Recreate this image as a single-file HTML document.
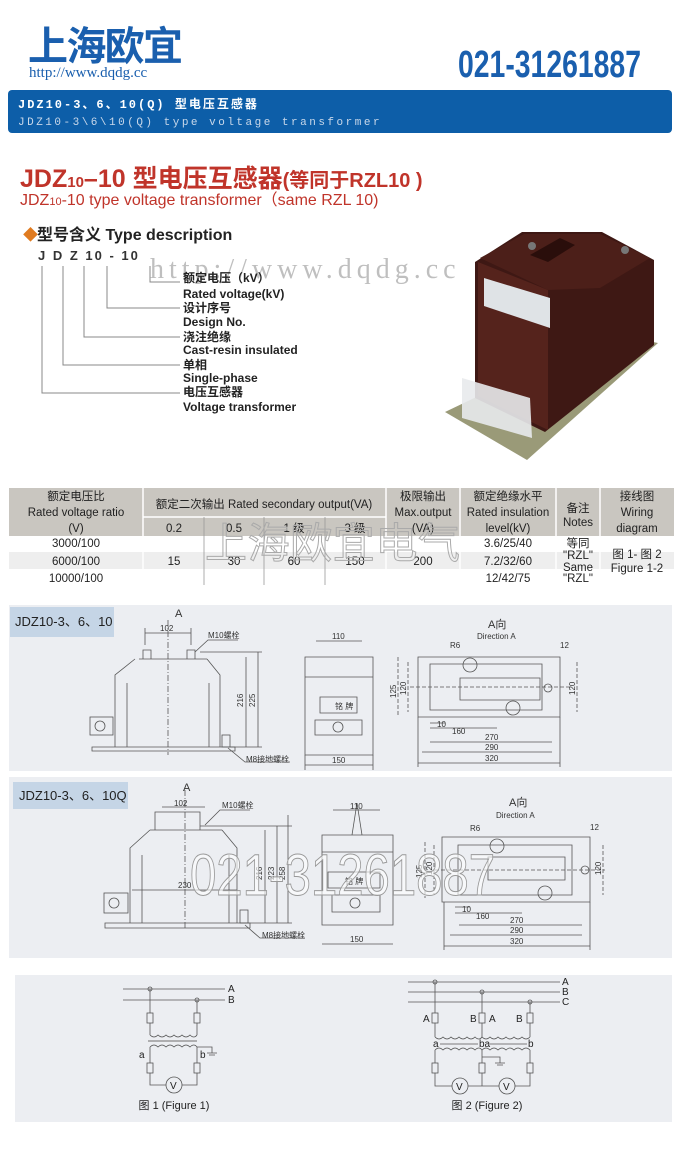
<!DOCTYPE html>
<html><head><meta charset="utf-8"><style>
html,body{margin:0;padding:0;background:#fff;}
svg{display:block;font-family:"Liberation Sans","Noto Sans CJK SC",sans-serif;}
</style></head><body>
<svg width="680" height="1175" viewBox="0 0 680 1175" xmlns="http://www.w3.org/2000/svg">
<!-- header -->
<text x="28" y="60" font-size="40" font-weight="bold" fill="#1a5fae" textLength="155">上海欧宜</text>
<text x="29" y="77" font-size="15" fill="#1a5fae" font-family="Liberation Serif,serif">http://www.dqdg.cc</text>
<text x="458" y="77" font-size="38" font-weight="bold" fill="#1a5fae" textLength="183" lengthAdjust="spacingAndGlyphs">021-31261887</text>
<rect x="8" y="90" width="664" height="43" rx="4" fill="#0d5ea8"/>
<text x="18" y="108" font-size="12" font-weight="bold" fill="#fff" font-family="Liberation Mono,'Noto Sans CJK SC',monospace" letter-spacing="2">JDZ10-3、6、10(Q) 型电压互感器</text>
<text x="18" y="125" font-size="11" fill="#c9d8ea" font-family="Liberation Mono,monospace" letter-spacing="2.5">JDZ10-3\6\10(Q) type voltage transformer</text>

<!-- red title -->
<text x="20" y="187" font-size="25" font-weight="bold" fill="#c0342a">JDZ<tspan font-size="15">10</tspan>–10 型电压互感器<tspan font-size="20">(等同于RZL10 )</tspan></text>
<text x="20" y="205" font-size="16" fill="#c0342a">JDZ<tspan font-size="11">10</tspan>-10 type voltage transformer（same RZL 10)</text>
<text x="23" y="240" font-size="15" fill="#e07b20">◆</text>
<text x="37" y="240" font-size="16" font-weight="bold" fill="#222">型号含义 Type description</text>
<text x="38" y="260" font-size="13" font-weight="bold" fill="#333" letter-spacing="2">J D Z 10 - 10</text>

<text x="150" y="278" font-size="28" fill="#bfbfbf" font-family="Liberation Serif,serif" letter-spacing="5">http://www.dqdg.cc</text>

<g stroke="#888" fill="none" stroke-width="1">
<path d="M150 266V282H180M107 266V308H180M84 266V337H180M63 266V365H180M42 266V393H180"/>
</g>
<g font-size="12" font-weight="bold" fill="#222">
<text x="183" y="282">额定电压（kV）</text>
<text x="183" y="298">Rated voltage(kV)</text>
<text x="183" y="312">设计序号</text>
<text x="183" y="326">Design No.</text>
<text x="183" y="341">浇注绝缘</text>
<text x="183" y="354">Cast-resin insulated</text>
<text x="183" y="369">单相</text>
<text x="183" y="382">Single-phase</text>
<text x="183" y="396">电压互感器</text>
<text x="183" y="411">Voltage transformer</text>
</g>

<!-- product photo -->
<polygon points="445,412 527,460 658,343 610,333" fill="#9a9a78"/>
<polygon points="475,262 522,232 602,232 654,260 654,345 545,432 475,398" fill="#3e1814"/>
<polygon points="478,262 548,290 548,430 478,396" fill="#55231c"/>
<polygon points="480,258 524,234 600,234 650,258 600,288 548,290" fill="#4c1f19"/>
<polygon points="530,255 560,238 575,245 548,262" fill="#2a0e0b"/>
<polygon points="484,278 550,298 550,328 484,306" fill="#dfe3e6"/>
<polygon points="462,378 530,398 532,438 462,418" fill="#e8eaec" opacity="0.9"/>
<circle cx="532" cy="246" r="4" fill="#777"/><circle cx="625" cy="250" r="4" fill="#777"/>

<!-- table -->
<rect x="9" y="488" width="665" height="48" fill="#c9c6c0"/>
<rect x="9" y="552" width="665" height="17" fill="#eeeeee"/>
<g stroke="#fff" stroke-width="1.5">
<line x1="143" y1="488" x2="143" y2="585"/><line x1="386" y1="488" x2="386" y2="585"/>
<line x1="460" y1="488" x2="460" y2="585"/><line x1="556" y1="488" x2="556" y2="585"/>
<line x1="600" y1="488" x2="600" y2="585"/>
<line x1="143" y1="517" x2="386" y2="517"/>
</g>
<g stroke="#999" stroke-width="0.8"><line x1="204" y1="517" x2="204" y2="585"/><line x1="264" y1="517" x2="264" y2="585"/><line x1="325" y1="517" x2="325" y2="585"/></g>
<g font-size="11.5" fill="#222" text-anchor="middle">
<text x="76" y="500">额定电压比</text><text x="76" y="516">Rated voltage ratio</text><text x="76" y="532">(V)</text>
<text x="264" y="508">额定二次输出  Rated secondary output(VA)</text>
<text x="174" y="532">0.2</text><text x="234" y="532">0.5</text><text x="294" y="532">1 级</text><text x="355" y="532">3 级</text>
<text x="423" y="500">极限输出</text><text x="423" y="516">Max.output</text><text x="423" y="532">(VA)</text>
<text x="508" y="500">额定绝缘水平</text><text x="508" y="516">Rated insulation</text><text x="508" y="532">level(kV)</text>
<text x="578" y="512">备注</text><text x="578" y="526">Notes</text>
<text x="637" y="500">接线图</text><text x="637" y="516">Wiring</text><text x="637" y="532">diagram</text>
<text x="76" y="547">3000/100</text><text x="76" y="565">6000/100</text><text x="76" y="582">10000/100</text>
<text x="174" y="565">15</text><text x="234" y="565">30</text><text x="294" y="565">60</text><text x="355" y="565">150</text><text x="423" y="565">200</text>
<text x="508" y="547">3.6/25/40</text><text x="508" y="565">7.2/32/60</text><text x="508" y="582">12/42/75</text>
<text x="578" y="547">等同</text><text x="578" y="559">"RZL"</text><text x="578" y="571">Same</text><text x="578" y="582">"RZL"</text>
<text x="637" y="558">图 1- 图 2</text><text x="637" y="572">Figure 1-2</text>
</g>
<text x="205" y="558" font-size="42" fill="none" stroke="#aaa" stroke-width="1" textLength="255" lengthAdjust="spacing">上海欧宜电气</text>

<!-- panel 1 -->
<rect x="9" y="605" width="663" height="166" fill="#eceef2"/>
<rect x="10" y="607" width="104" height="30" fill="#c5d5e6"/>
<text x="15" y="626" font-size="13" fill="#222">JDZ10-3、6、10</text>
<g stroke="#555" stroke-width="0.8" fill="none">
<path d="M139 659H207M135 659L115 675V747M207 659L220 675V747M127 683V747M209 683V747M92 747H235V751H92Z"/>
<path d="M143 659V650H151V659M187 659V650H195V659"/>
<rect x="90" y="717" width="23" height="18"/><circle cx="100" cy="726" r="5"/>
<rect x="222" y="735" width="8" height="12"/>
<path d="M168 620V755" stroke-dasharray="6 2 1 2"/>
<path d="M145 633H191M145 628V645M191 628V645M195 652L208 640H238"/>
<path d="M200 652H262M246 657V747M258 652V747M230 747H262M228 748L245 762H290"/>
<path d="M305 657H373V755H305ZM305 677H373M320 697H357V713H320ZM315 720H362V735H315Z"/>
<circle cx="338" cy="727" r="5"/>
<path d="M316 641H362M305 765H373M305 755V770M373 755V770"/>
<path d="M418 657H560V717H418ZM430 664H542V710H430ZM460 678H540V700H460Z"/>
<circle cx="470" cy="665" r="7"/><circle cx="513" cy="708" r="7"/><circle cx="548" cy="688" r="4"/>
<path d="M398 657V717M408 662V712M577 662V712M410 687H570" stroke-dasharray="4 2"/>
<path d="M430 723H445M430 728H497M430 742H552M422 752H552M418 763H560M418 717V767M560 717V767"/>
</g>
<g font-size="8" fill="#333">
<text x="175" y="617" font-size="11">A</text>
<text x="160" y="631">102</text><text x="208" y="638">M10螺栓</text>
<text x="246" y="762">M8接地螺栓</text>
<text x="243" y="707" transform="rotate(-90 243 707)">216</text>
<text x="255" y="707" transform="rotate(-90 255 707)">225</text>
<text x="332" y="639">110</text><text x="332" y="763">150</text>
<text x="335" y="709">铭  牌</text>
<text x="488" y="628" font-size="11">A向</text><text x="477" y="639">Direction A</text>
<text x="450" y="648">R6</text><text x="560" y="648">12</text>
<text x="396" y="698" transform="rotate(-90 396 698)">125</text>
<text x="406" y="695" transform="rotate(-90 406 695)">120</text>
<text x="575" y="695" transform="rotate(-90 575 695)">120</text>
<text x="437" y="727">10</text><text x="452" y="734">160</text>
<text x="485" y="740">270</text><text x="485" y="750">290</text><text x="485" y="761">320</text>
</g>

<!-- panel 2 -->
<rect x="9" y="777" width="663" height="181" fill="#eceef2"/>
<rect x="13" y="782" width="115" height="27" fill="#c5d5e6"/>
<text x="19" y="800" font-size="13" fill="#222">JDZ10-3、6、10Q</text>
<g stroke="#555" stroke-width="0.8" fill="none">
<path d="M155 830V812H200V830M150 830H222M150 830L130 848V923M222 830L237 848V923M142 855V923M229 855V923M105 923H250V928H105Z"/>
<rect x="104" y="893" width="24" height="20"/><circle cx="114" cy="903" r="5"/>
<rect x="240" y="910" width="8" height="13"/>
<path d="M185 790V930" stroke-dasharray="6 2 1 2"/>
<path d="M162 807H205M205 825L220 810H250M132 890H237"/>
<path d="M200 826H292M265 830V923M277 826V923M288 815V923M240 923H292M245 925L260 938H305"/>
<path d="M322 835H393V925H322ZM322 852H393M328 872H380V888H328ZM332 895H380V912H332Z M352 835L357 803L362 835"/>
<circle cx="355" cy="903" r="5"/>
<path d="M333 810H380M322 944H393"/>
<path d="M442 837H590V902H442ZM458 845H572V895H458ZM488 857H565V880H488Z"/>
<circle cx="497" cy="846" r="7"/><circle cx="545" cy="893" r="7"/><circle cx="585" cy="870" r="4"/>
<path d="M425 842V898M434 845V894M603 845V895M435 870H605" stroke-dasharray="4 2"/>
<path d="M455 907H470M455 913H522M459 925H582M450 935H582M444 946H590M444 902V950M590 902V950"/>
</g>
<g font-size="8" fill="#333">
<text x="183" y="791" font-size="11">A</text>
<text x="174" y="806">102</text><text x="222" y="808">M10螺栓</text>
<text x="178" y="888">230</text>
<text x="262" y="938">M8接地螺栓</text>
<text x="262" y="880" transform="rotate(-90 262 880)">216</text>
<text x="274" y="880" transform="rotate(-90 274 880)">223</text>
<text x="285" y="880" transform="rotate(-90 285 880)">258</text>
<text x="350" y="809">110</text><text x="350" y="942">150</text>
<text x="345" y="884">铭  牌</text>
<text x="509" y="806" font-size="11">A向</text><text x="496" y="818">Direction A</text>
<text x="470" y="831">R6</text><text x="590" y="830">12</text>
<text x="422" y="878" transform="rotate(-90 422 878)">125</text>
<text x="432" y="875" transform="rotate(-90 432 875)">120</text>
<text x="601" y="875" transform="rotate(-90 601 875)">120</text>
<text x="462" y="912">10</text><text x="476" y="919">160</text>
<text x="510" y="923">270</text><text x="510" y="933">290</text><text x="510" y="944">320</text>
</g>
<text x="190" y="895" font-size="58" fill="rgba(255,255,255,0.6)" stroke="#999" stroke-width="1" textLength="305" lengthAdjust="spacingAndGlyphs">021-31261887</text>

<!-- panel 3 -->
<rect x="15" y="975" width="657" height="147" fill="#eceef2"/>
<g stroke="#555" stroke-width="0.8" fill="none">
<path d="M123 989H225M123 1000H225M150 989V1013M197 1000V1013M150 1023V1035M197 1023V1035"/>
<rect x="147" y="1013" width="6" height="10"/><rect x="194" y="1013" width="6" height="10"/>
<path d="M150 1035q4 4 8 0q4 4 8 0q4 4 8 0q4 4 8 0q4 4 8 0q4 4 7 0"/>
<path d="M148 1041H197" stroke="#888" stroke-width="1.2"/>
<path d="M150 1047q4 -4 8 0q4 -4 8 0q4 -4 8 0q4 -4 8 0q4 -4 8 0q4 -4 7 0"/>
<path d="M150 1047V1063M197 1047V1063M197 1047H212V1053M207 1053H217M209 1055H215"/>
<rect x="147" y="1063" width="6" height="10"/><rect x="194" y="1063" width="6" height="10"/>
<path d="M150 1073V1085H166M182 1085H197V1073"/><circle cx="174" cy="1085" r="8"/>
<circle cx="150" cy="989" r="2"/><circle cx="197" cy="1000" r="2"/>

<path d="M408 982H560M408 992H560M408 1002H560M435 982V1013M482 992V1013M530 1002V1013M435 1023V1037M482 1023V1037M530 1023V1037"/>
<circle cx="435" cy="982" r="2"/><circle cx="482" cy="992" r="2"/><circle cx="530" cy="1002" r="2"/>
<rect x="432" y="1013" width="6" height="10"/><rect x="479" y="1013" width="6" height="10"/><rect x="527" y="1013" width="6" height="10"/>
<path d="M435 1037q4 4 8 0q4 4 8 0q4 4 8 0q4 4 8 0q4 4 8 0q4 4 7 0q4 4 8 0q4 4 8 0q4 4 8 0q4 4 8 0q4 4 8 0q4 4 8 0"/>
<path d="M440 1044H478M490 1044H527"/>
<path d="M435 1050q4 -4 8 0q4 -4 8 0q4 -4 8 0q4 -4 8 0q4 -4 8 0q4 -4 7 0q4 -4 8 0q4 -4 8 0q4 -4 8 0q4 -4 8 0q4 -4 8 0q4 -4 8 0"/>
<path d="M435 1050V1063M482 1050V1063M530 1050V1063M482 1057H500V1063M495 1063H505M497 1065H503"/>
<rect x="432" y="1063" width="6" height="10"/><rect x="479" y="1063" width="6" height="10"/><rect x="527" y="1063" width="6" height="10"/>
<path d="M435 1073V1086H452M468 1086H499M515 1086H530V1073M482 1073V1086"/>
<circle cx="460" cy="1086" r="8"/><circle cx="507" cy="1086" r="8"/>
</g>
<g font-size="10" fill="#222">
<text x="228" y="992">A</text><text x="228" y="1003">B</text>
<text x="139" y="1058">a</text><text x="200" y="1058">b</text>
<text x="170" y="1089">V</text>
<text x="562" y="985">A</text><text x="562" y="995">B</text><text x="562" y="1005">C</text>
<text x="423" y="1022">A</text><text x="470" y="1022">B</text><text x="489" y="1022">A</text><text x="516" y="1022">B</text>
<text x="433" y="1047">a</text><text x="479" y="1047">ba</text><text x="528" y="1047">b</text>
<text x="456" y="1090">V</text><text x="503" y="1090">V</text>
<text x="174" y="1109" text-anchor="middle" font-size="11">图 1 (Figure 1)</text>
<text x="487" y="1109" text-anchor="middle" font-size="11">图 2 (Figure 2)</text>
</g>
</svg>
</body></html>
